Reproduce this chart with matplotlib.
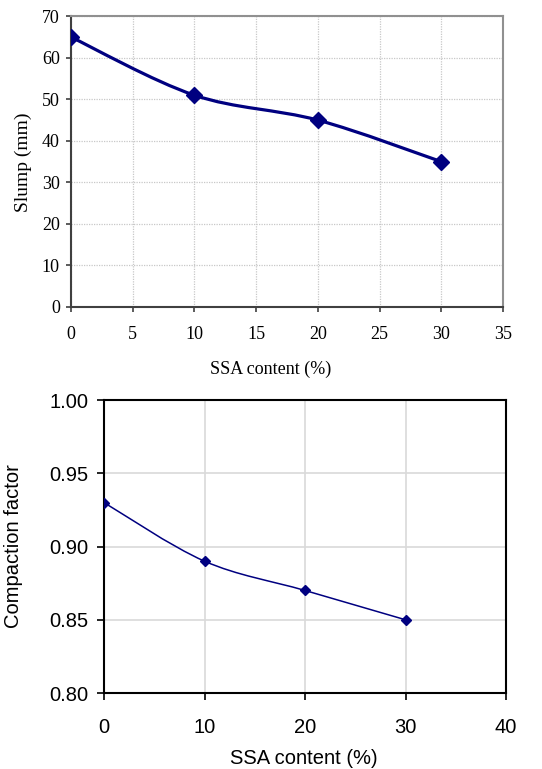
import numpy as np
import matplotlib
matplotlib.use("Agg")
import matplotlib.pyplot as plt
from matplotlib.path import Path
from matplotlib.patches import PathPatch

# data
ssa_content = [0, 10, 20, 30]
slump_mm = [65, 51, 45, 35]
compaction_factor = [0.93, 0.89, 0.87, 0.85]

top_xticks = [0, 5, 10, 15, 20, 25, 30, 35]
top_yticks = [0, 10, 20, 30, 40, 50, 60, 70]
bottom_xticks = [0, 10, 20, 30, 40]
bottom_yticks = [0.80, 0.85, 0.90, 0.95, 1.00]

NAVY = "#000080"


def smooth_path(xs, ys):
    # Excel style smoothed line: cubic Bezier through the points
    pts = np.column_stack((xs, ys)).astype(float)
    ext = np.vstack((pts[0], pts, pts[-1]))
    verts = [tuple(pts[0])]
    codes = [Path.MOVETO]
    for i in range(len(pts) - 1):
        p_prev, p0, p1, p_next = ext[i], ext[i + 1], ext[i + 2], ext[i + 3]
        c1 = p0 + (p1 - p_prev) / 6.0
        c2 = p1 - (p_next - p0) / 6.0
        verts += [tuple(c1), tuple(c2), tuple(p1)]
        codes += [Path.CURVE4] * 3
    return Path(verts, codes)


fig = plt.figure(figsize=(5.42, 7.69), dpi=100)

# ---- top chart: slump ----
ax1 = fig.add_axes([0.131, 0.6008, 0.797, 0.378])
serif = "Liberation Serif"
ax1.add_patch(PathPatch(smooth_path(ssa_content, slump_mm), fill=False,
                        edgecolor=NAVY, linewidth=2.3, zorder=3))
ax1.plot(ssa_content, slump_mm, linestyle="none", marker="D",
         markersize=8.5, color=NAVY, zorder=4)
ax1.set_xlim(0, 35)
ax1.set_ylim(0, 70)
ax1.set_xticks(top_xticks)
ax1.set_yticks(top_yticks)
ax1.grid(True, color="#c8c8c8", linestyle=(0, (1, 1)), linewidth=0.9)
ax1.set_axisbelow(True)
for side in ["left", "bottom"]:
    ax1.spines[side].set_color("#404040")
    ax1.spines[side].set_linewidth(1.5)
for side in ["top", "right"]:
    ax1.spines[side].set_color("#909090")
    ax1.spines[side].set_linewidth(1.5)
ax1.tick_params(direction="out", length=3.5, width=1.2, color="#404040",
                labelsize=13)
ax1.tick_params(axis="y", pad=4.5)
ax1.tick_params(axis="x", pad=10.5)
for lbl in ax1.get_xticklabels() + ax1.get_yticklabels():
    lbl.set_family(serif)
ax1.set_xlabel("SSA content (%)", fontsize=13, family=serif)
ax1.xaxis.label.set_va("center")
ax1.xaxis.set_label_coords(0.463, -0.216)
ax1.set_ylabel("Slump (mm)", fontsize=14, family=serif)
ax1.yaxis.label.set_va("center")
ax1.yaxis.set_label_coords(-0.111, 0.498)

# ---- bottom chart: compaction factor ----
ax2 = fig.add_axes([0.1919, 0.0988, 0.7417, 0.381])
sans = "Liberation Sans"
ax2.add_patch(PathPatch(smooth_path(ssa_content, compaction_factor),
                        fill=False, edgecolor=NAVY, linewidth=1.1, zorder=3))
ax2.plot(ssa_content, compaction_factor, linestyle="none", marker="D",
         markersize=5.5, color=NAVY, zorder=4)
ax2.set_xlim(0, 40)
ax2.set_ylim(0.80, 1.00)
ax2.set_xticks(bottom_xticks)
ax2.set_yticks(bottom_yticks)
ax2.set_yticklabels([f"{v:.2f}" for v in bottom_yticks])
ax2.grid(True, color="#d9d9d9", linewidth=1.2)
ax2.set_axisbelow(True)
for side in ax2.spines:
    ax2.spines[side].set_color("black")
    ax2.spines[side].set_linewidth(1.5)
ax2.tick_params(direction="out", length=5, width=1.2, color="black",
                labelsize=14.5)
ax2.tick_params(axis="y", pad=6)
ax2.tick_params(axis="x", pad=13)
for lbl in ax2.get_xticklabels() + ax2.get_yticklabels():
    lbl.set_family(sans)
ax2.set_xlabel("SSA content (%)", fontsize=14.5, family=sans)
ax2.xaxis.label.set_va("center")
ax2.xaxis.set_label_coords(0.4975, -0.222)
ax2.set_ylabel("Compaction factor", fontsize=14.5, family=sans)
ax2.yaxis.label.set_va("center")
ax2.yaxis.set_label_coords(-0.226, 0.50)

fig.savefig("out.png", dpi=100)
plt.close(fig)
